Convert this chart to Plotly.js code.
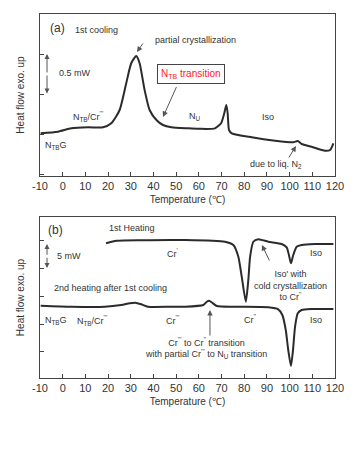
<!DOCTYPE html>
<html>
<head>
<meta charset="utf-8">
<script src="https://cdn.plot.ly/plotly-3.0.1.min.js"></script>
<style>html,body{margin:0;padding:0;background:#fff}#chart{width:357px;height:451px}</style>
</head>
<body>
<div id="chart"></div>
<script>
// Panel (a): 1st cooling (heat flow, mW, arbitrary offset)
var tempA = [-9.7, -2.1, 3.8, 11.2, 17.8, 21.4, 25.1, 28.0, 30.2, 32.4, 33.9, 36.1, 38.3, 41.3, 44.2, 47.9, 55.2, 60.0, 67.1, 69.8, 71.2, 72.1, 72.7, 73.3, 74.5, 83.3, 93.6, 101.6, 103.6, 105.3, 109.7, 115.6, 117.8, 119.3];
var heatA = [0.534, 0.554, 0.596, 0.609, 0.609, 0.659, 0.825, 1.159, 1.409, 1.50, 1.409, 1.075, 0.825, 0.70, 0.6375, 0.609, 0.596, 0.59, 0.596, 0.659, 0.784, 0.8875, 0.784, 0.575, 0.534, 0.484, 0.441, 0.421, 0.4375, 0.40, 0.366, 0.316, 0.325, 0.409];
// Panel (b): 1st heating
var tempB1 = [19.1, 23.8, 35.0, 53.9, 71.5, 75.2, 77.4, 78.9, 80.7, 81.8, 82.6, 84.0, 86.2, 90.6, 96.5, 98.7, 99.7, 100.6, 101.6, 103.1, 105.3, 111.2, 119.3];
var heatB1 = [24.23, 24.69, 24.80, 24.82, 24.51, 23.92, 21.82, 18.22, 13.72, 17.63, 21.82, 24.51, 24.95, 24.51, 24.10, 23.51, 22.12, 20.63, 22.12, 23.62, 23.92, 24.10, 24.10];
// Panel (b): 2nd heating after 1st cooling
var tempB2 = [-9.7, 3.8, 18.5, 25.8, 29.5, 32.0, 34.6, 37.6, 47.9, 53.9, 62.0, 63.5, 64.5, 65.9, 67.9, 75.9, 90.6, 95.0, 96.8, 98.3, 99.4, 100.6, 101.5, 102.4, 103.6, 105.3, 109.7, 119.3];
var heatB2 = [13.00, 12.82, 12.82, 13.13, 13.44, 13.54, 13.26, 12.82, 12.82, 12.82, 13.13, 13.72, 13.90, 13.54, 12.95, 12.82, 12.72, 12.36, 11.33, 8.63, 5.04, 2.16, 5.04, 9.23, 11.64, 12.23, 12.41, 12.41];
var xTicks = [-10, 0, 10, 20, 30, 40, 50, 60, 70, 80, 90, 100, 110, 120];

var FONT = 'Liberation Sans, Arial, sans-serif';
var TXT = '#333333';
var LINE = '#2b2b2b';
var P3 = "<sup>'''</sup>", P2 = "<sup>''</sup>", P1 = "<sup>'</sup>";

var traces = [
  {x: tempA, y: heatA, xaxis: 'x', yaxis: 'y', mode: 'lines', line: {color: LINE, width: 2, shape: 'spline', smoothing: 0.6}, hoverinfo: 'skip'},
  {x: tempB1, y: heatB1, xaxis: 'x2', yaxis: 'y2', mode: 'lines', line: {color: LINE, width: 2, shape: 'spline', smoothing: 0.6}, hoverinfo: 'skip'},
  {x: tempB2, y: heatB2, xaxis: 'x2', yaxis: 'y2', mode: 'lines', line: {color: LINE, width: 2, shape: 'spline', smoothing: 0.6}, hoverinfo: 'skip'}
];

function xax(anchor) {
  return {
    domain: [40/357, 335/357], range: [-10, 120], anchor: anchor,
    tickmode: 'array', tickvals: xTicks, ticktext: xTicks.map(String),
    ticks: 'inside', ticklen: 4, tickcolor: '#444', tickwidth: 1,
    showline: true, linecolor: '#444', linewidth: 1, mirror: true,
    showgrid: false, zeroline: false, fixedrange: true,
    tickfont: {family: FONT, size: 11, color: TXT},
    title: {text: 'Temperature (\u2103)', font: {family: FONT, size: 10, color: TXT}, standoff: 4}
  };
}
function yax(anchor, dom, rng, t0, dt) {
  return {
    domain: dom, range: rng, anchor: anchor,
    tick0: t0, dtick: dt, ticks: 'inside', ticklen: 4, tickcolor: '#444', tickwidth: 1,
    showticklabels: false, fixedrange: true,
    showline: true, linecolor: '#444', linewidth: 1, mirror: true,
    showgrid: false, zeroline: false,
    title: {text: 'Heat flow exo. up', font: {family: FONT, size: 10, color: TXT}, standoff: 12}
  };
}

function lab(xref, yref, x, y, text, opts) {
  var a = {xref: xref, yref: yref, x: x, y: y, text: text, showarrow: false,
    font: {family: FONT, size: 9, color: TXT}, xanchor: 'center', yanchor: 'middle'};
  for (var k in opts) a[k] = opts[k];
  return a;
}
function arr(xref, yref, x, y, ax, ay, opts) {
  var a = {xref: xref, yref: yref, axref: xref, ayref: yref, x: x, y: y, ax: ax, ay: ay, text: '',
    showarrow: true, arrowhead: 2, arrowsize: 1.1, arrowwidth: 1, arrowcolor: '#555'};
  for (var k in opts) a[k] = opts[k];
  return a;
}

var ann = [
  // panel a
  lab('x', 'y', -2.5, 1.85, '(a)', {font: {family: FONT, size: 12, color: TXT}}),
  lab('x', 'y', 14.7, 1.825, '1st cooling'),
  lab('x', 'y', 39.8, 1.70, 'partial crystallization', {xanchor: 'left'}),
  arr('x', 'y', 32.7, 1.55, 35.8, 1.675),
  lab('x', 'y', 56.5, 1.281, 'N<sub>TB</sub> transition', {font: {family: FONT, size: 10, color: '#ff2020'}, bordercolor: '#444', borderwidth: 1, borderpad: 3}),
  arr('x', 'y', 44.2, 0.7375, 50.4, 1.13),
  lab('x', 'y', -2.5, 1.2875, '0.5 mW', {xanchor: 'left'}),
  arr('x', 'y', -6.9, 1.525, -6.9, 1.275, {arrowsize: 1}),
  arr('x', 'y', -6.9, 1.03, -6.9, 1.275, {arrowsize: 1}),
  lab('x', 'y', 3.7, 0.7375, 'N<sub>TB</sub>/Cr' + P3, {xanchor: 'left'}),
  lab('x', 'y', -8.7, 0.3875, 'N<sub>TB</sub>G', {xanchor: 'left'}),
  lab('x', 'y', 58.3, 0.7375, 'N<sub>U</sub>'),
  lab('x', 'y', 90.5, 0.7375, 'Iso'),
  lab('x', 'y', 94, 0.15, 'due to liq. N<sub>2</sub>'),
  arr('x', 'y', 102.8, 0.375, 99.3, 0.2125),
  // panel b
  lab('x2', 'y2', -3, 26.6, '(b)', {font: {family: FONT, size: 12, color: TXT}}),
  lab('x2', 'y2', 30.5, 26.98, '1st Heating'),
  lab('x2', 'y2', -3.4, 21.9, '5 mW', {xanchor: 'left'}),
  arr('x2', 'y2', -6.9, 24.1, -6.9, 21.9, {arrowsize: 1}),
  arr('x2', 'y2', -6.9, 19.78, -6.9, 21.9, {arrowsize: 1}),
  lab('x2', 'y2', 48.2, 22.48, 'Cr' + P1),
  lab('x2', 'y2', -4.7, 16.19, '2nd heating after 1st cooling', {xanchor: 'left'}),
  lab('x2', 'y2', -8.7, 10.43, 'N<sub>TB</sub>G', {xanchor: 'left'}),
  lab('x2', 'y2', 5.4, 10.43, 'N<sub>TB</sub>/Cr' + P3, {xanchor: 'left'}),
  lab('x2', 'y2', 48.2, 10.43, 'Cr' + P3),
  lab('x2', 'y2', 82.5, 10.6, 'Cr' + P2),
  lab('x2', 'y2', 111.6, 22.48, 'Iso'),
  lab('x2', 'y2', 111.6, 10.43, 'Iso'),
  lab('x2', 'y2', 100.2, 16.55, "Iso' with<br>cold crystallization<br>to Cr" + P2),
  arr('x2', 'y2', 87.8, 23.92, 91.4, 20.86),
  arr('x2', 'y2', 64.9, 12.23, 64.9, 7.37),
  lab('x2', 'y2', 63.2, 5.4, 'Cr' + P3 + ' to Cr' + P2 + ' transition<br>with partial Cr' + P3 + ' to N<sub>U</sub> transition')
];

var layout = {
  width: 357, height: 451,
  margin: {l: 0, r: 0, t: 0, b: 0},
  paper_bgcolor: '#ffffff', plot_bgcolor: '#ffffff',
  showlegend: false,
  font: {family: FONT, size: 10, color: TXT},
  xaxis: xax('y'),
  yaxis: yax('x', [1 - 176/451, 1 - 14/451], [0, 2.025], 0.025, 0.5),
  xaxis2: xax('y2'),
  yaxis2: yax('x2', [1 - 378/451, 1 - 217/451], [0, 28.96], 4.7, 5),
  annotations: ann
};

Plotly.newPlot('chart', traces, layout, {displayModeBar: false});
</script>
</body>
</html>
